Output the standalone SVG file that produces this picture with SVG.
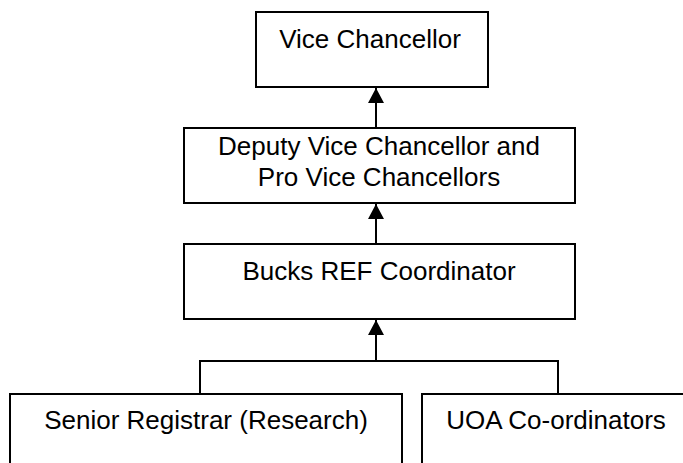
<svg xmlns="http://www.w3.org/2000/svg" width="683" height="463" viewBox="0 0 683 463">
<style>
.box{fill:#fff;stroke:#000;stroke-width:2}
.lbl{font-family:"Liberation Sans",Arial,sans-serif;font-size:26px;fill:#000;text-anchor:middle}
.con{fill:none;stroke:#000;stroke-width:2}
</style>
<defs>
<marker id="ah" markerUnits="userSpaceOnUse" markerWidth="16" markerHeight="16" viewBox="0 0 16 16" refX="15" refY="8" orient="auto">
<path d="M0,0 L15,8 L0,16 Z" fill="#000"/>
</marker>
</defs>
<rect width="683" height="463" fill="#fff"/>
<g id="vc">
<rect class="box" x="256" y="12" width="232" height="75"/>
<text class="lbl" x="370" y="48">Vice Chancellor</text>
</g>
<g id="dvc">
<rect class="box" x="184" y="128" width="391" height="75"/>
<text class="lbl" x="379" y="155">Deputy Vice Chancellor and</text>
<text class="lbl" x="379" y="186">Pro Vice Chancellors</text>
</g>
<g id="bucks">
<rect class="box" x="184" y="244" width="391" height="75"/>
<text class="lbl" x="379" y="280">Bucks REF Coordinator</text>
</g>
<g id="senior">
<rect class="box" x="10" y="394" width="392" height="80"/>
<text class="lbl" x="206" y="429">Senior Registrar (Research)</text>
</g>
<g id="uoa">
<rect class="box" x="422" y="394" width="270" height="80"/>
<text class="lbl" x="556" y="429">UOA Co-ordinators</text>
</g>
<g id="connectors">
<line class="con" x1="376" y1="128" x2="376" y2="88" marker-end="url(#ah)"/>
<line class="con" x1="376" y1="244" x2="376" y2="204" marker-end="url(#ah)"/>
<line class="con" x1="376" y1="361" x2="376" y2="320" marker-end="url(#ah)"/>
<polyline class="con" points="200,394 200,361 558,361 558,394"/>
</g>
</svg>
